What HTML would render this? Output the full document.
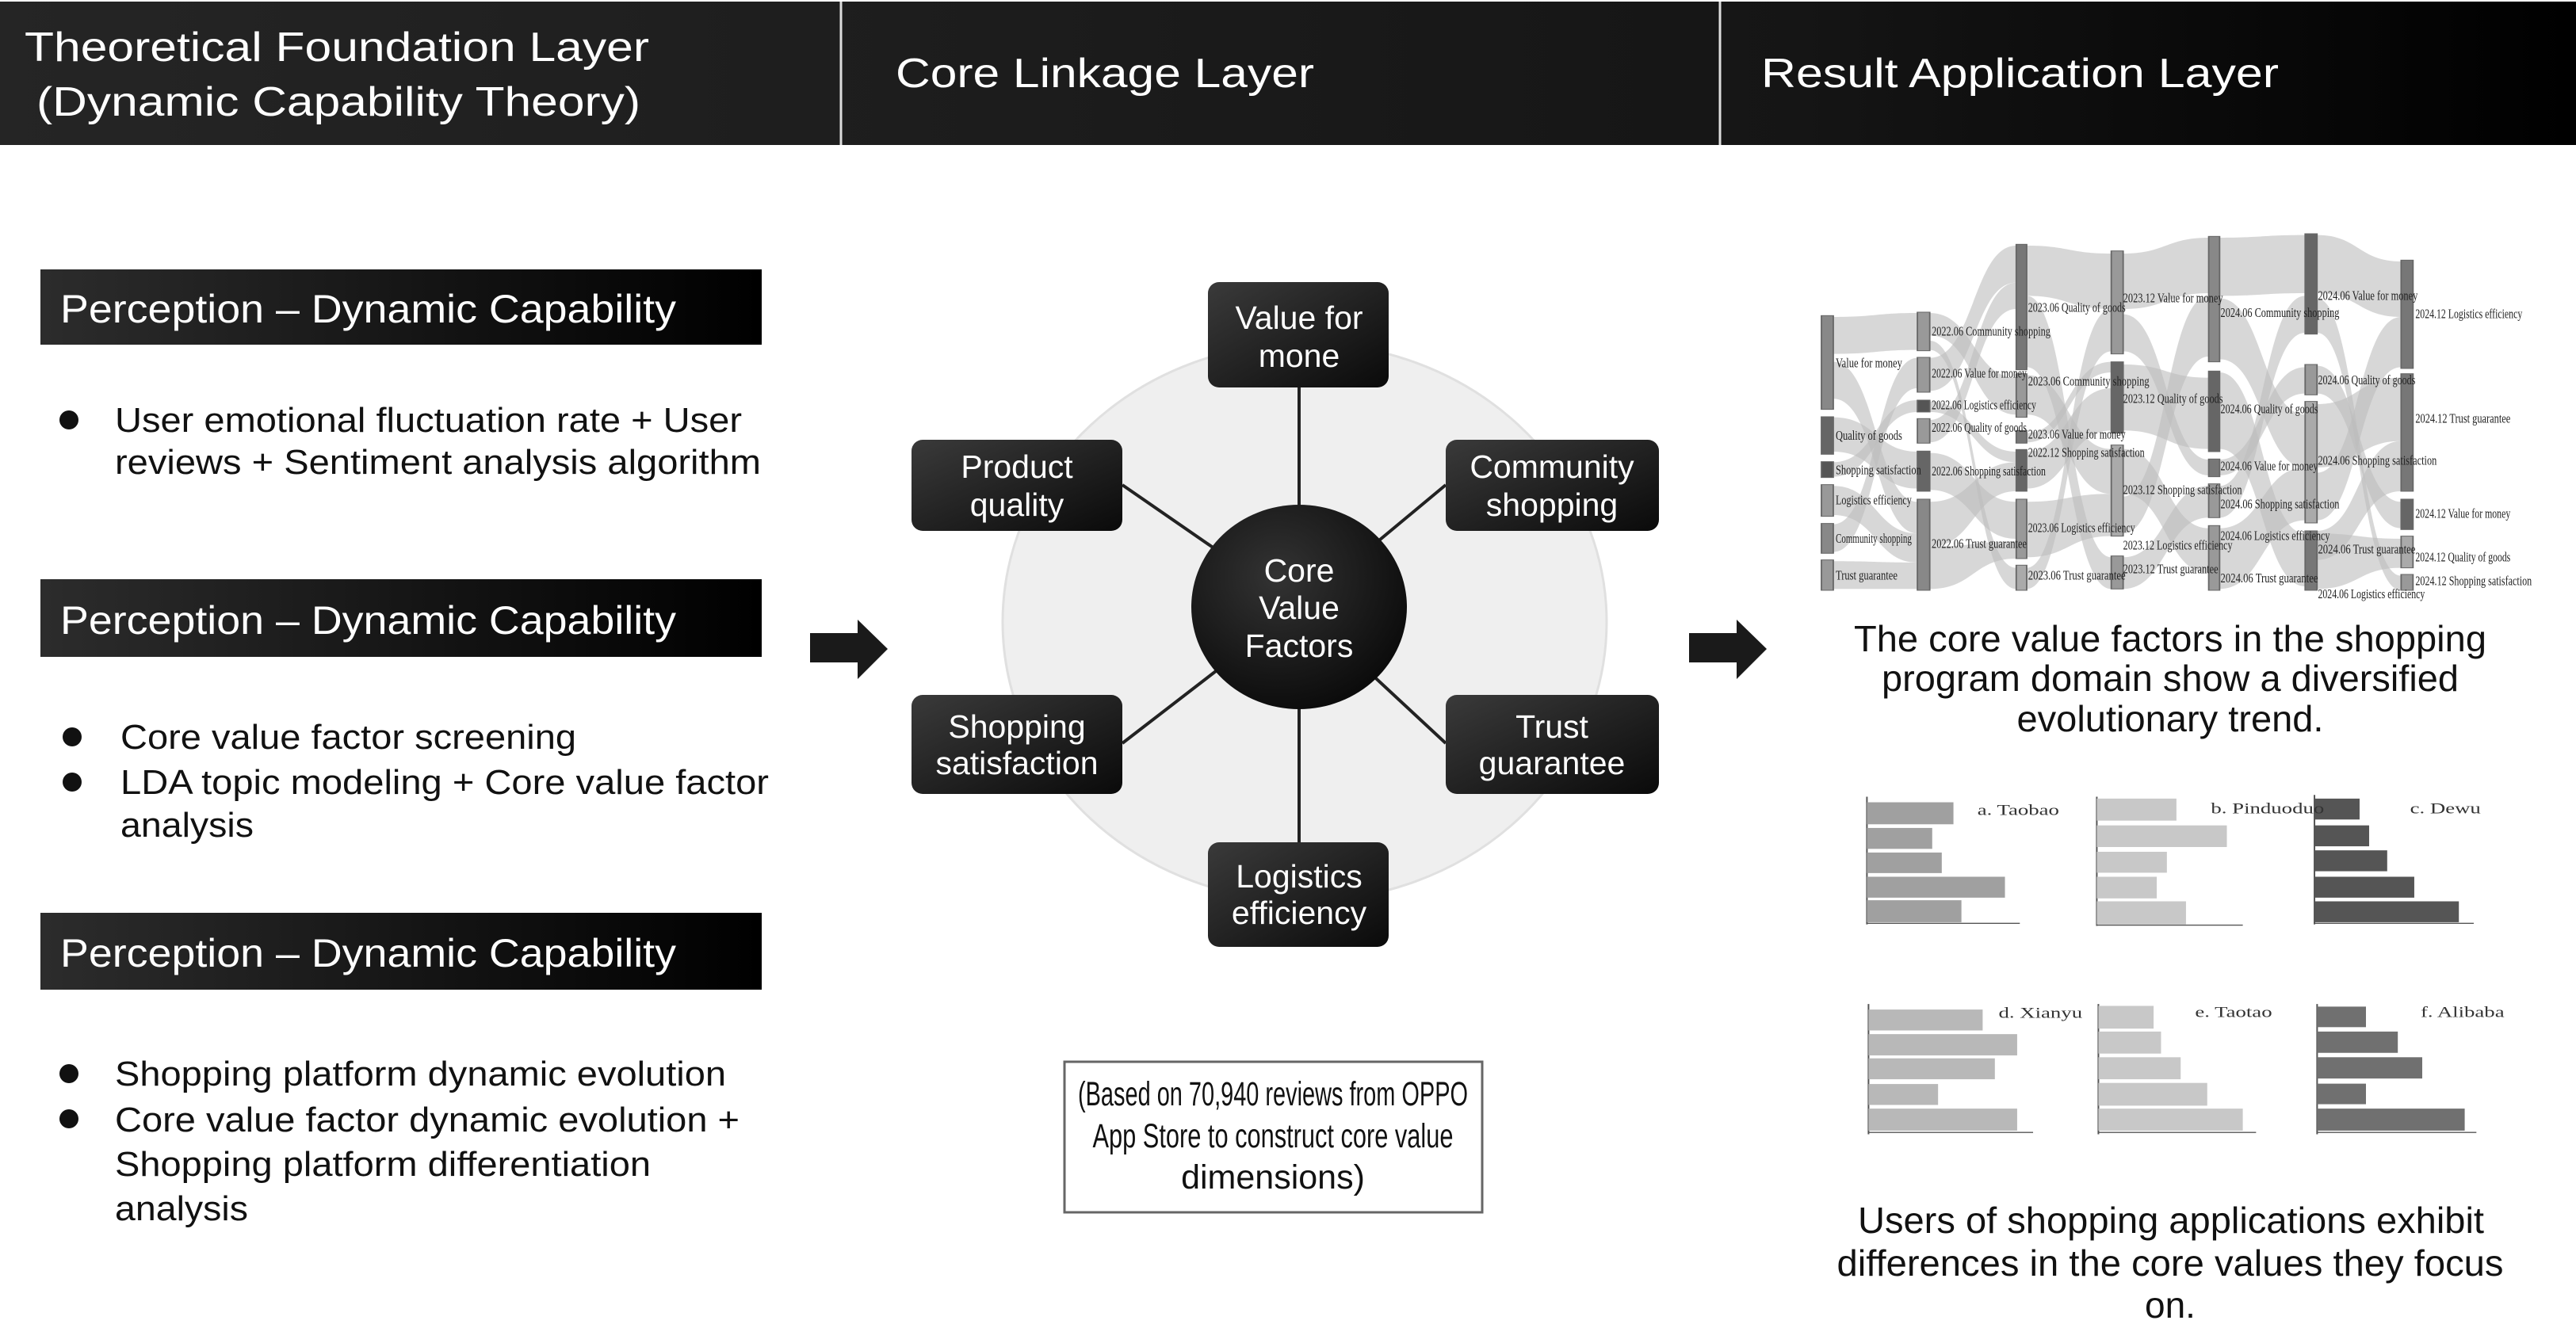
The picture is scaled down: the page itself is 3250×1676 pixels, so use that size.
<!DOCTYPE html>
<html><head><meta charset="utf-8"><style>html,body{margin:0;padding:0;background:#fff}svg{display:block}</style></head>
<body>
<svg width="3250" height="1676" viewBox="0 0 3250 1676" xmlns="http://www.w3.org/2000/svg" font-family="Liberation Sans, Arial, sans-serif">
<defs>
<linearGradient id="hdr" x1="0" x2="1" y1="0" y2="0"><stop offset="0" stop-color="#252525"/><stop offset="0.7" stop-color="#151515"/><stop offset="1" stop-color="#000"/></linearGradient>
<linearGradient id="pbox" x1="0" x2="1" y1="0" y2="0"><stop offset="0" stop-color="#2c2c2c"/><stop offset="1" stop-color="#000"/></linearGradient>
<linearGradient id="node" x1="0" x2="1" y1="0" y2="1"><stop offset="0" stop-color="#3a3a3a"/><stop offset="1" stop-color="#0a0a0a"/></linearGradient>
<radialGradient id="core" cx="0.4" cy="0.35" r="0.7"><stop offset="0" stop-color="#333"/><stop offset="1" stop-color="#0a0a0a"/></radialGradient>
</defs>

<!-- Header -->
<rect x="0" y="2" width="3250" height="181" fill="url(#hdr)"/>
<line x1="1061" y1="2" x2="1061" y2="183" stroke="#ddd" stroke-width="3"/>
<line x1="2170" y1="2" x2="2170" y2="183" stroke="#ddd" stroke-width="3"/>
<g fill="#fff" font-size="52">
<text x="31" y="77" textLength="788" lengthAdjust="spacingAndGlyphs">Theoretical Foundation Layer</text>
<text x="46" y="146" textLength="762" lengthAdjust="spacingAndGlyphs">(Dynamic Capability Theory)</text>
<text x="1130" y="110" textLength="528" lengthAdjust="spacingAndGlyphs">Core Linkage Layer</text>
<text x="2222" y="110" textLength="653" lengthAdjust="spacingAndGlyphs">Result Application Layer</text>
</g>

<!-- Left column -->
<rect x="51" y="340" width="910" height="95" fill="url(#pbox)"/>
<rect x="51" y="731" width="910" height="98" fill="url(#pbox)"/>
<rect x="51" y="1152" width="910" height="97" fill="url(#pbox)"/>
<g fill="#fff" font-size="50">
<text x="76" y="407" textLength="777" lengthAdjust="spacingAndGlyphs">Perception – Dynamic Capability</text>
<text x="76" y="800" textLength="777" lengthAdjust="spacingAndGlyphs">Perception – Dynamic Capability</text>
<text x="76" y="1220" textLength="777" lengthAdjust="spacingAndGlyphs">Perception – Dynamic Capability</text>
</g>
<g fill="#111">
<circle cx="87" cy="530" r="12"/>
<circle cx="91" cy="930" r="12"/><circle cx="91" cy="987" r="12"/>
<circle cx="87" cy="1355" r="12"/><circle cx="87" cy="1412" r="12"/>
</g>
<g fill="#111" font-size="44">
<text x="145" y="545" textLength="791" lengthAdjust="spacingAndGlyphs">User emotional fluctuation rate + User</text>
<text x="145" y="598" textLength="815" lengthAdjust="spacingAndGlyphs">reviews + Sentiment analysis algorithm</text>
<text x="152" y="945" textLength="575" lengthAdjust="spacingAndGlyphs">Core value factor screening</text>
<text x="152" y="1002" textLength="818" lengthAdjust="spacingAndGlyphs">LDA topic modeling + Core value factor</text>
<text x="152" y="1056" textLength="168" lengthAdjust="spacingAndGlyphs">analysis</text>
<text x="145" y="1370" textLength="771" lengthAdjust="spacingAndGlyphs">Shopping platform dynamic evolution</text>
<text x="145" y="1428" textLength="788" lengthAdjust="spacingAndGlyphs">Core value factor dynamic evolution +</text>
<text x="145" y="1484" textLength="676" lengthAdjust="spacingAndGlyphs">Shopping platform differentiation</text>
<text x="145" y="1540" textLength="168" lengthAdjust="spacingAndGlyphs">analysis</text>
</g>

<!-- Arrows -->
<path d="M1022 799 H1082 V782 L1120 819 L1082 857 V836 H1022 Z" fill="#1a1a1a"/>
<path d="M2131 799 H2191 V782 L2229 819 L2191 857 V836 H2131 Z" fill="#1a1a1a"/>

<!-- Middle -->
<ellipse cx="1646" cy="785" rx="381" ry="352" fill="#efefef" stroke="#e0e0e0" stroke-width="3"/>
<g stroke="#222" stroke-width="4">
<line x1="1639" y1="766" x2="1639" y2="489"/>
<line x1="1639" y1="766" x2="1639" y2="1063"/>
<line x1="1639" y1="766" x2="1416" y2="612"/>
<line x1="1639" y1="766" x2="1824" y2="612"/>
<line x1="1639" y1="766" x2="1416" y2="938"/>
<line x1="1639" y1="766" x2="1824" y2="938"/>
</g>
<g fill="url(#node)">
<rect x="1524" y="356" width="228" height="133" rx="14"/>
<rect x="1150" y="555" width="266" height="115" rx="14"/>
<rect x="1824" y="555" width="269" height="115" rx="14"/>
<rect x="1150" y="877" width="266" height="125" rx="14"/>
<rect x="1824" y="877" width="269" height="125" rx="14"/>
<rect x="1524" y="1063" width="228" height="132" rx="14"/>
</g>
<ellipse cx="1639" cy="766" rx="136" ry="129" fill="url(#core)"/>
<g fill="#fff" font-size="41" text-anchor="middle">
<text x="1639" y="415">Value for</text><text x="1639" y="463">mone</text>
<text x="1283" y="603">Product</text><text x="1283" y="651">quality</text>
<text x="1958" y="603">Community</text><text x="1958" y="651">shopping</text>
<text x="1639" y="734">Core</text><text x="1639" y="781">Value</text><text x="1639" y="829">Factors</text>
<text x="1283" y="931">Shopping</text><text x="1283" y="977">satisfaction</text>
<text x="1958" y="931">Trust</text><text x="1958" y="977">guarantee</text>
<text x="1639" y="1120">Logistics</text><text x="1639" y="1166">efficiency</text>
</g>

<rect x="1343" y="1340" width="527" height="190" fill="#fff" stroke="#666" stroke-width="3"/>
<g fill="#111" font-size="43" text-anchor="middle">
<text x="1606" y="1395" textLength="492" lengthAdjust="spacingAndGlyphs">(Based on 70,940 reviews from OPPO</text>
<text x="1606" y="1448" textLength="455" lengthAdjust="spacingAndGlyphs">App Store to construct core value</text>
<text x="1606" y="1500">dimensions)</text>
</g>

<!-- Sankey -->
<g transform="translate(2280,290) scale(0.5995,0.3333)">
<g fill="#bdbdbd" fill-opacity="0.6">
<path d="M55 330 C145 330 145 315 232 315 L232 455 C145 455 145 470 55 470 Z"/>
<path d="M55 500 C145 500 145 1030 232 1030 L232 1150 C145 1150 145 640 55 640 Z"/>
<path d="M55 710 C145 710 145 840 232 840 L232 980 C145 980 145 840 55 840 Z"/>
<path d="M55 880 C145 880 145 645 232 645 L232 690 C145 690 145 935 55 935 Z"/>
<path d="M55 970 C145 970 145 1150 232 1150 L232 1260 C145 1260 145 1080 55 1080 Z"/>
<path d="M55 1115 C145 1115 145 485 232 485 L232 600 C145 600 145 1220 55 1220 Z"/>
<path d="M55 1255 C145 1255 145 1260 232 1260 L232 1360 C145 1360 145 1360 55 1360 Z"/>
<path d="M258 315 C350 315 350 560 440 560 L440 700 C350 700 350 400 258 400 Z"/>
<path d="M258 420 C350 420 350 1280 440 1280 L440 1360 C350 1360 350 455 258 455 Z"/>
<path d="M258 485 C350 485 350 60 440 60 L440 200 C350 200 350 610 258 610 Z"/>
<path d="M258 650 C350 650 350 840 440 840 L440 880 C350 880 350 690 258 690 Z"/>
<path d="M258 720 C350 720 350 200 440 200 L440 300 C350 300 350 805 258 805 Z"/>
<path d="M258 845 C350 845 350 1030 440 1030 L440 1170 C350 1170 350 985 258 985 Z"/>
<path d="M258 1030 C350 1030 350 880 440 880 L440 990 C350 990 350 1200 258 1200 Z"/>
<path d="M258 1200 C350 1200 350 1180 440 1180 L440 1245 C350 1245 350 1360 258 1360 Z"/>
<path d="M462 60 C550 60 550 90 640 90 L640 300 C550 300 550 250 462 250 Z"/>
<path d="M462 250 C550 250 550 1240 640 1240 L640 1360 C550 1360 550 520 462 520 Z"/>
<path d="M462 550 C550 550 550 830 640 830 L640 1000 C550 1000 550 700 462 700 Z"/>
<path d="M462 770 C550 770 550 500 640 500 L640 540 C550 540 550 805 462 805 Z"/>
<path d="M462 840 C550 840 550 600 640 600 L640 760 C550 760 550 980 462 980 Z"/>
<path d="M462 1030 C550 1030 550 1000 640 1000 L640 1160 C550 1160 550 1240 462 1240 Z"/>
<path d="M462 1280 C550 1280 550 300 640 300 L640 460 C550 460 550 1360 462 1360 Z"/>
<path d="M665 90 C755 90 755 30 845 30 L845 240 C755 240 755 300 665 300 Z"/>
<path d="M665 320 C755 320 755 870 845 870 L845 930 C755 930 755 460 665 460 Z"/>
<path d="M665 510 C755 510 755 560 845 560 L845 830 C755 830 755 760 665 760 Z"/>
<path d="M665 830 C755 830 755 1130 845 1130 L845 1300 C755 1300 755 1000 665 1000 Z"/>
<path d="M665 1010 C755 1010 755 250 845 250 L845 480 C755 480 755 1150 665 1150 Z"/>
<path d="M665 1240 C755 1240 755 970 845 970 L845 1090 C755 1090 755 1360 665 1360 Z"/>
<path d="M868 30 C958 30 958 20 1048 20 L1048 240 C958 240 958 250 868 250 Z"/>
<path d="M868 260 C958 260 958 700 1048 700 L1048 900 C958 900 958 490 868 490 Z"/>
<path d="M868 540 C958 540 958 1150 1048 1150 L1048 1350 C958 1350 958 830 868 830 Z"/>
<path d="M868 870 C958 870 958 520 1048 520 L1048 620 C958 620 958 930 868 930 Z"/>
<path d="M868 970 C958 970 958 250 1048 250 L1048 390 C958 390 958 1090 868 1090 Z"/>
<path d="M868 1130 C958 1130 958 900 1048 900 L1048 1100 C958 1100 958 1360 868 1360 Z"/>
<path d="M1073 20 C1160 20 1160 120 1250 120 L1250 330 C1160 330 1160 240 1073 240 Z"/>
<path d="M1073 260 C1160 260 1160 1310 1250 1310 L1250 1365 C1160 1365 1160 390 1073 390 Z"/>
<path d="M1073 515 C1160 515 1160 1030 1250 1030 L1250 1130 C1160 1130 1160 620 1073 620 Z"/>
<path d="M1073 660 C1160 660 1160 560 1250 560 L1250 800 C1160 800 1160 900 1073 900 Z"/>
<path d="M1073 920 C1160 920 1160 330 1250 330 L1250 520 C1160 520 1160 1100 1073 1100 Z"/>
<path d="M1073 1150 C1160 1150 1160 1170 1250 1170 L1250 1280 C1160 1280 1160 1360 1073 1360 Z"/>
<path d="M1073 1140 C1160 1140 1160 800 1250 800 L1250 990 C1160 990 1160 1250 1073 1250 Z"/>
</g>
<g fill="#888" stroke="#666" stroke-width="3">
<rect x="30" y="325" width="25" height="355"/><rect x="30" y="708" width="25" height="142" fill="#666"/><rect x="30" y="878" width="25" height="60" fill="#555"/><rect x="30" y="965" width="25" height="120" fill="#999"/><rect x="30" y="1112" width="25" height="113"/><rect x="30" y="1250" width="25" height="115" fill="#999"/>
<rect x="232" y="312" width="26" height="146" fill="#999"/><rect x="232" y="483" width="26" height="132" fill="#999"/><rect x="232" y="645" width="26" height="45" fill="#555"/><rect x="232" y="715" width="26" height="93" fill="#999"/><rect x="232" y="838" width="26" height="152" fill="#666"/><rect x="232" y="1020" width="26" height="345"/>
<rect x="440" y="55" width="22" height="475" fill="#777"/><rect x="440" y="545" width="22" height="165" fill="#999"/><rect x="440" y="760" width="22" height="48" fill="#777"/><rect x="440" y="832" width="22" height="158" fill="#666"/><rect x="440" y="1020" width="22" height="225" fill="#999"/><rect x="440" y="1270" width="22" height="95" fill="#aaa"/>
<rect x="640" y="80" width="25" height="390" fill="#999"/><rect x="640" y="500" width="25" height="270" fill="#666"/><rect x="640" y="815" width="25" height="345" fill="#aaa"/><rect x="640" y="1235" width="25" height="125" fill="#999"/>
<rect x="845" y="25" width="23" height="475"/><rect x="845" y="535" width="23" height="305" fill="#666"/><rect x="845" y="868" width="23" height="67" fill="#777"/><rect x="845" y="962" width="23" height="128" fill="#999"/><rect x="845" y="1120" width="23" height="245" fill="#999"/>
<rect x="1048" y="15" width="25" height="380" fill="#666"/><rect x="1048" y="510" width="25" height="115" fill="#999"/><rect x="1048" y="650" width="25" height="460" fill="#aaa"/><rect x="1048" y="1140" width="25" height="225" fill="#777"/>
<rect x="1250" y="115" width="25" height="410" fill="#777"/><rect x="1250" y="545" width="25" height="445" fill="#777"/><rect x="1250" y="1020" width="25" height="115" fill="#666"/><rect x="1250" y="1160" width="25" height="120" fill="#aaa"/><rect x="1250" y="1305" width="25" height="60" fill="#999"/>
</g>
<g fill="#222" font-family="Liberation Serif, serif" font-size="50">
<text x="60" y="520" textLength="140" lengthAdjust="spacingAndGlyphs">Value for money</text><text x="60" y="795" textLength="140" lengthAdjust="spacingAndGlyphs">Quality of goods</text><text x="60" y="925" textLength="180" lengthAdjust="spacingAndGlyphs">Shopping satisfaction</text><text x="60" y="1040" textLength="160" lengthAdjust="spacingAndGlyphs">Logistics efficiency</text><text x="60" y="1185" textLength="160" lengthAdjust="spacingAndGlyphs">Community shopping</text><text x="60" y="1325" textLength="130" lengthAdjust="spacingAndGlyphs">Trust guarantee</text>
<text x="262" y="400" textLength="250" lengthAdjust="spacingAndGlyphs">2022.06 Community shopping</text><text x="262" y="560" textLength="200" lengthAdjust="spacingAndGlyphs">2022.06 Value for money</text><text x="262" y="680" textLength="220" lengthAdjust="spacingAndGlyphs">2022.06 Logistics efficiency</text><text x="262" y="765" textLength="200" lengthAdjust="spacingAndGlyphs">2022.06 Quality of goods</text><text x="262" y="930" textLength="240" lengthAdjust="spacingAndGlyphs">2022.06 Shopping satisfaction</text><text x="262" y="1205" textLength="200" lengthAdjust="spacingAndGlyphs">2022.06 Trust guarantee</text>
<text x="465" y="310" textLength="205" lengthAdjust="spacingAndGlyphs">2023.06 Quality of goods</text><text x="465" y="590" textLength="255" lengthAdjust="spacingAndGlyphs">2023.06 Community shopping</text><text x="465" y="790" textLength="205" lengthAdjust="spacingAndGlyphs">2023.06 Value for money</text><text x="465" y="860" textLength="245" lengthAdjust="spacingAndGlyphs">2022.12 Shopping satisfaction</text><text x="465" y="1145" textLength="225" lengthAdjust="spacingAndGlyphs">2023.06 Logistics efficiency</text><text x="465" y="1325" textLength="205" lengthAdjust="spacingAndGlyphs">2023.06 Trust guarantee</text>
<text x="665" y="275" textLength="210" lengthAdjust="spacingAndGlyphs">2023.12 Value for money</text><text x="665" y="655" textLength="210" lengthAdjust="spacingAndGlyphs">2023.12 Quality of goods</text><text x="665" y="1000" textLength="250" lengthAdjust="spacingAndGlyphs">2023.12 Shopping satisfaction</text><text x="665" y="1210" textLength="230" lengthAdjust="spacingAndGlyphs">2023.12 Logistics efficiency</text><text x="665" y="1300" textLength="200" lengthAdjust="spacingAndGlyphs">2023.12 Trust guarantee</text>
<text x="870" y="330" textLength="250" lengthAdjust="spacingAndGlyphs">2024.06 Community shopping</text><text x="870" y="695" textLength="205" lengthAdjust="spacingAndGlyphs">2024.06 Quality of goods</text><text x="870" y="910" textLength="205" lengthAdjust="spacingAndGlyphs">2024.06 Value for money</text><text x="870" y="1055" textLength="250" lengthAdjust="spacingAndGlyphs">2024.06 Shopping satisfaction</text><text x="870" y="1175" textLength="230" lengthAdjust="spacingAndGlyphs">2024.06 Logistics efficiency</text><text x="870" y="1335" textLength="205" lengthAdjust="spacingAndGlyphs">2024.06 Trust guarantee</text>
<text x="1075" y="265" textLength="210" lengthAdjust="spacingAndGlyphs">2024.06 Value for money</text><text x="1075" y="585" textLength="205" lengthAdjust="spacingAndGlyphs">2024.06 Quality of goods</text><text x="1075" y="890" textLength="250" lengthAdjust="spacingAndGlyphs">2024.06 Shopping satisfaction</text><text x="1075" y="1225" textLength="205" lengthAdjust="spacingAndGlyphs">2024.06 Trust guarantee</text><text x="1075" y="1395" textLength="225" lengthAdjust="spacingAndGlyphs">2024.06 Logistics efficiency</text>
<text x="1280" y="335" textLength="225" lengthAdjust="spacingAndGlyphs">2024.12 Logistics efficiency</text><text x="1280" y="730" textLength="200" lengthAdjust="spacingAndGlyphs">2024.12 Trust guarantee</text><text x="1280" y="1090" textLength="200" lengthAdjust="spacingAndGlyphs">2024.12 Value for money</text><text x="1280" y="1255" textLength="200" lengthAdjust="spacingAndGlyphs">2024.12 Quality of goods</text><text x="1280" y="1345" textLength="245" lengthAdjust="spacingAndGlyphs">2024.12 Shopping satisfaction</text>
</g>
</g>

<g fill="#111" font-size="46" text-anchor="middle">
<text x="2738" y="822" textLength="798" lengthAdjust="spacingAndGlyphs">The core value factors in the shopping</text>
<text x="2738" y="872" textLength="728" lengthAdjust="spacingAndGlyphs">program domain show a diversified</text>
<text x="2738" y="923" textLength="387" lengthAdjust="spacingAndGlyphs">evolutionary trend.</text>
<text x="2739" y="1556" textLength="790" lengthAdjust="spacingAndGlyphs">Users of shopping applications exhibit</text>
<text x="2738" y="1610" textLength="841" lengthAdjust="spacingAndGlyphs">differences in the core values they focus</text>
<text x="2738" y="1663">on.</text>
</g>

<!-- Bar charts -->
<g transform="translate(2200,950) scale(0.6698,0.463)">
<g stroke="#555" stroke-width="3">
<line x1="232" y1="120" x2="232" y2="468"/><line x1="232" y1="465" x2="520" y2="465"/>
<line x1="665" y1="120" x2="665" y2="472"/><line x1="665" y1="470" x2="940" y2="470"/>
<line x1="1075" y1="115" x2="1075" y2="468"/><line x1="1075" y1="465" x2="1375" y2="465"/>
<line x1="235" y1="685" x2="235" y2="1040"/><line x1="235" y1="1035" x2="545" y2="1035"/>
<line x1="668" y1="685" x2="668" y2="1040"/><line x1="668" y1="1035" x2="965" y2="1035"/>
<line x1="1080" y1="685" x2="1080" y2="1040"/><line x1="1080" y1="1035" x2="1380" y2="1035"/>
</g>
<g fill="#a0a0a0"><rect x="232" y="135" width="163" height="60"/><rect x="232" y="205" width="123" height="57"/><rect x="232" y="272" width="141" height="56"/><rect x="232" y="338" width="260" height="57"/><rect x="232" y="402" width="178" height="60"/></g>
<g fill="#c8c8c8"><rect x="665" y="125" width="150" height="60"/><rect x="665" y="198" width="245" height="59"/><rect x="665" y="270" width="132" height="57"/><rect x="665" y="338" width="113" height="59"/><rect x="665" y="405" width="168" height="63"/></g>
<g fill="#555"><rect x="1075" y="125" width="85" height="57"/><rect x="1075" y="198" width="103" height="57"/><rect x="1075" y="266" width="137" height="57"/><rect x="1075" y="338" width="188" height="57"/><rect x="1075" y="405" width="272" height="57"/></g>
<g fill="#b8b8b8"><rect x="235" y="700" width="215" height="57"/><rect x="235" y="767" width="280" height="58"/><rect x="235" y="833" width="238" height="57"/><rect x="235" y="903" width="131" height="57"/><rect x="235" y="970" width="280" height="60"/></g>
<g fill="#c8c8c8"><rect x="668" y="690" width="104" height="62"/><rect x="668" y="760" width="118" height="60"/><rect x="668" y="830" width="155" height="60"/><rect x="668" y="900" width="205" height="62"/><rect x="668" y="970" width="272" height="60"/></g>
<g fill="#707070"><rect x="1080" y="692" width="92" height="56"/><rect x="1080" y="760" width="152" height="58"/><rect x="1080" y="830" width="198" height="58"/><rect x="1080" y="902" width="92" height="56"/><rect x="1080" y="970" width="278" height="60"/></g>
<g fill="#333" font-family="Liberation Serif, serif" font-size="40">
<text x="440" y="170">a. Taobao</text><text x="880" y="165">b. Pinduoduo</text><text x="1255" y="165">c. Dewu</text>
<text x="480" y="722">d. Xianyu</text><text x="850" y="720">e. Taotao</text><text x="1275" y="720">f. Alibaba</text>
</g>
</g>
</svg>
</body></html>
